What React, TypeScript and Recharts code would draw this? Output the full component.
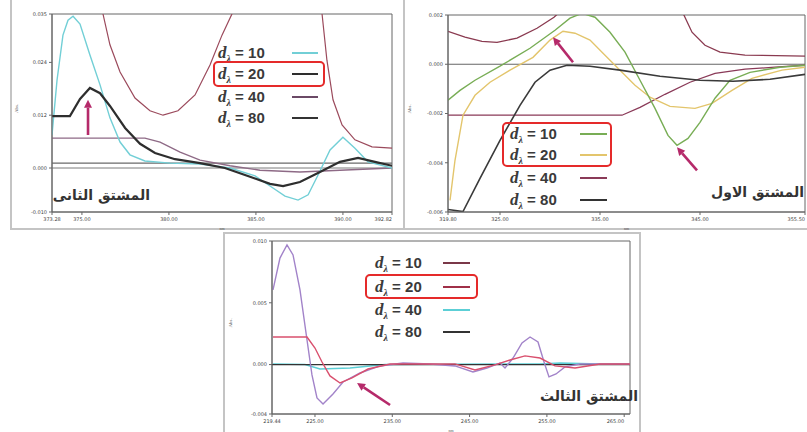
import React from 'react';
import { LineChart, Line, XAxis, YAxis, ReferenceLine, ReferenceArea } from 'recharts';

type P = { x: number; y: number | null };

// ---------------- Panel 1 : second derivative ----------------
const p1XTicks = [373.28, 375, 380, 385, 390, 392.82];
const p1YTicks = [-0.01, 0, 0.012, 0.024, 0.035];
const p1D10: P[] = [
  { x: 373.28, y: 0.0075 }, { x: 373.57, y: 0.02 }, { x: 373.91, y: 0.0302 }, { x: 374.2, y: 0.0336 },
  { x: 374.49, y: 0.0345 }, { x: 374.89, y: 0.0327 }, { x: 375.46, y: 0.0257 }, { x: 376.04, y: 0.0189 },
  { x: 376.61, y: 0.0114 }, { x: 377.19, y: 0.0059 }, { x: 377.76, y: 0.003 }, { x: 378.62, y: 0.0016 },
  { x: 380.06, y: 0.0011 }, { x: 381.79, y: 0.0009 }, { x: 383.51, y: 0 }, { x: 384.95, y: -0.0018 },
  { x: 385.81, y: -0.0041 }, { x: 386.67, y: -0.0064 }, { x: 387.42, y: -0.0073 }, { x: 388.0, y: -0.0061 },
  { x: 388.57, y: -0.0016 }, { x: 389.26, y: 0.0041 }, { x: 390.0, y: 0.007 }, { x: 390.69, y: 0.0045 },
  { x: 391.44, y: 0.0014 }, { x: 392.82, y: 0 },
];
const p1D20: P[] = [
  { x: 373.28, y: 0.0118 }, { x: 374.31, y: 0.0118 }, { x: 374.89, y: 0.0157 }, { x: 375.46, y: 0.0182 },
  { x: 376.04, y: 0.017 }, { x: 376.61, y: 0.0141 }, { x: 377.48, y: 0.0091 }, { x: 378.34, y: 0.0055 },
  { x: 379.2, y: 0.0034 }, { x: 380.35, y: 0.002 }, { x: 381.79, y: 0.0011 }, { x: 383.22, y: 0 },
  { x: 384.66, y: -0.002 }, { x: 385.81, y: -0.0036 }, { x: 386.56, y: -0.0041 }, { x: 387.53, y: -0.0032 },
  { x: 388.68, y: -0.0009 }, { x: 389.83, y: 0.0014 }, { x: 390.87, y: 0.0023 }, { x: 391.84, y: 0.0014 },
  { x: 392.82, y: 0.0005 },
];
const p1D40: P[] = [
  { x: 373.28, y: 0.0068 }, { x: 378.62, y: 0.0068 }, { x: 379.49, y: 0.0059 }, { x: 380.64, y: 0.0036 },
  { x: 381.79, y: 0.0018 }, { x: 383.51, y: 0.0005 }, { x: 385.23, y: -0.0005 }, { x: 387.53, y: -0.0009 },
  { x: 389.83, y: -0.0005 }, { x: 392.82, y: 0 },
];
const p1D80: P[] = [{ x: 373.28, y: 0.0011 }, { x: 392.82, y: 0.0011 }];
const p1Spectrum: P[] = [
  { x: 376.04, y: 0.0393 }, { x: 376.21, y: 0.035 }, { x: 376.61, y: 0.028 }, { x: 377.19, y: 0.0218 },
  { x: 378.05, y: 0.0159 }, { x: 378.91, y: 0.013 }, { x: 379.66, y: 0.012 }, { x: 380.52, y: 0.013 },
  { x: 381.5, y: 0.0166 }, { x: 382.36, y: 0.0234 }, { x: 383.05, y: 0.0302 }, { x: 383.62, y: 0.035 },
  { x: 383.8, y: 0.0393 }, { x: 386.0, y: null },
  { x: 388.62, y: 0.0393 }, { x: 388.8, y: 0.035 }, { x: 389.08, y: 0.0245 }, { x: 389.43, y: 0.0155 },
  { x: 389.95, y: 0.0098 }, { x: 390.69, y: 0.0064 }, { x: 391.67, y: 0.0048 }, { x: 392.82, y: 0.0045 },
];
const p1Arrow = [{ x: 375.35, y: 0.0075 }, { x: 375.35, y: 0.0155 }];

// ---------------- Panel 2 : first derivative ----------------
const p2XTicks = [319.8, 325, 335, 345, 355.5];
const p2YTicks = [-0.006, -0.004, -0.002, 0, 0.002];
const p2D10: P[] = [
  { x: 319.8, y: -0.00146 }, { x: 321.0, y: -0.00106 }, { x: 322.5, y: -0.00065 }, { x: 325.0, y: -0.00008 },
  { x: 328.0, y: 0.00065 }, { x: 330.5, y: 0.00138 }, { x: 332.0, y: 0.00187 }, { x: 333.2, y: 0.00207 },
  { x: 334.5, y: 0.00191 }, { x: 336.0, y: 0.0013 }, { x: 337.5, y: 0.00049 }, { x: 339.0, y: -0.00065 },
  { x: 340.5, y: -0.00179 }, { x: 341.8, y: -0.00289 }, { x: 342.7, y: -0.00329 }, { x: 343.8, y: -0.00301 },
  { x: 345.0, y: -0.00236 }, { x: 346.5, y: -0.00138 }, { x: 348.0, y: -0.00065 }, { x: 350.0, y: -0.00033 },
  { x: 353.0, y: -0.00012 }, { x: 355.5, y: -0.00004 },
];
const p2D20: P[] = [
  { x: 320.0, y: -0.00553 }, { x: 320.5, y: -0.0039 }, { x: 321.3, y: -0.00207 }, { x: 322.5, y: -0.00126 },
  { x: 324.0, y: -0.00073 }, { x: 326.0, y: -0.00024 }, { x: 328.3, y: 0.00028 }, { x: 330.0, y: 0.00098 },
  { x: 331.3, y: 0.00134 }, { x: 332.5, y: 0.00126 }, { x: 334.0, y: 0.00098 }, { x: 335.5, y: 0.00037 },
  { x: 337.0, y: -0.00024 }, { x: 338.5, y: -0.00085 }, { x: 340.0, y: -0.00134 }, { x: 342.0, y: -0.00171 },
  { x: 344.5, y: -0.00179 }, { x: 346.2, y: -0.00159 }, { x: 348.2, y: -0.00106 }, { x: 350.2, y: -0.00057 },
  { x: 353.2, y: -0.00024 }, { x: 355.5, y: -0.00012 },
];
const p2D40: P[] = [
  { x: 319.8, y: -0.00207 }, { x: 337.2, y: -0.00207 }, { x: 339.0, y: -0.00175 }, { x: 341.5, y: -0.00122 },
  { x: 344.0, y: -0.00073 }, { x: 346.5, y: -0.00037 }, { x: 349.5, y: -0.0002 }, { x: 352.5, y: -0.00012 },
  { x: 355.5, y: -0.00004 },
];
const p2D80: P[] = [
  { x: 319.8, y: -0.0059 }, { x: 321.3, y: -0.00598 }, { x: 323.0, y: -0.00463 }, { x: 325.0, y: -0.00309 },
  { x: 327.0, y: -0.00167 }, { x: 328.5, y: -0.00073 }, { x: 330.0, y: -0.00024 }, { x: 331.7, y: -0.00004 },
  { x: 334.0, y: -0.00008 }, { x: 337.0, y: -0.00024 }, { x: 341.0, y: -0.00049 }, { x: 345.0, y: -0.00065 },
  { x: 348.3, y: -0.00069 }, { x: 352.0, y: -0.00061 }, { x: 355.5, y: -0.00041 },
];
const p2Spectrum: P[] = [
  { x: 319.8, y: 0.00134 }, { x: 321.5, y: 0.0011 }, { x: 323.2, y: 0.00093 }, { x: 324.7, y: 0.00089 },
  { x: 326.7, y: 0.00106 }, { x: 328.7, y: 0.00146 }, { x: 330.4, y: 0.00191 }, { x: 331.4, y: 0.00228 },
  { x: 338.0, y: null },
  { x: 343.0, y: 0.00228 }, { x: 343.4, y: 0.00199 }, { x: 344.2, y: 0.0013 }, { x: 345.5, y: 0.00077 },
  { x: 347.0, y: 0.00049 }, { x: 349.5, y: 0.00037 }, { x: 355.5, y: 0.00033 },
];
const p2ArrowA = [{ x: 332.3, y: 0.00008 }, { x: 330.3, y: 0.0011 }];
const p2ArrowB = [{ x: 344.7, y: -0.00431 }, { x: 342.7, y: -0.00337 }];

// ---------------- Panel 3 : third derivative ----------------
const p3XTicks = [219.44, 225, 235, 245, 255, 265];
const p3YTicks = [-0.004, 0, 0.005, 0.01];
const p3D10: P[] = [
  { x: 219.57, y: 0.00604 }, { x: 220.47, y: 0.00862 }, { x: 221.38, y: 0.00968 }, { x: 222.16, y: 0.00887 },
  { x: 223.06, y: 0.00604 }, { x: 223.97, y: 0.00199 }, { x: 224.61, y: -0.00084 }, { x: 225.26, y: -0.0027 },
  { x: 226.04, y: -0.00319 }, { x: 227.33, y: -0.00238 }, { x: 228.63, y: -0.00141 }, { x: 230.82, y: -0.00068 },
  { x: 233.41, y: -0.00011 }, { x: 236.39, y: 0.00013 }, { x: 239.88, y: 0.00005 }, { x: 243.11, y: -0.00011 },
  { x: 245.44, y: -0.0006 }, { x: 247.25, y: -0.00028 }, { x: 248.94, y: 0.00013 }, { x: 249.58, y: -0.00028 },
  { x: 250.62, y: 0.00053 }, { x: 251.78, y: 0.00175 }, { x: 252.82, y: 0.00223 }, { x: 253.85, y: 0.00183 },
  { x: 254.63, y: 0.00021 }, { x: 255.27, y: -0.001 }, { x: 256.18, y: -0.00076 }, { x: 257.34, y: -0.00019 },
  { x: 259.28, y: 0.00005 }, { x: 265.75, y: 0.00005 },
];
const p3D20: P[] = [
  { x: 219.57, y: 0.00223 }, { x: 223.97, y: 0.00223 }, { x: 225.0, y: 0.00134 }, { x: 225.91, y: 0.00021 },
  { x: 226.94, y: -0.00092 }, { x: 228.24, y: -0.00149 }, { x: 229.79, y: -0.00108 }, { x: 231.86, y: -0.00036 },
  { x: 234.71, y: 0.00005 }, { x: 243.11, y: 0.00005 }, { x: 245.7, y: -0.00044 }, { x: 248.29, y: -0.00003 },
  { x: 250.23, y: 0.00037 }, { x: 252.17, y: 0.0007 }, { x: 254.11, y: 0.00053 }, { x: 256.05, y: -0.00011 },
  { x: 258.64, y: -0.00028 }, { x: 261.87, y: 0.00005 }, { x: 265.75, y: 0.00005 },
];
const p3D40: P[] = [
  { x: 219.57, y: 0.00005 }, { x: 223.71, y: 0 }, { x: 225.65, y: -0.00036 }, { x: 229.53, y: -0.00028 },
  { x: 234.06, y: 0 }, { x: 254.11, y: 0.00005 }, { x: 256.7, y: 0.00013 }, { x: 261.87, y: 0.00005 },
  { x: 265.75, y: 0.00005 },
];
const p3D80: P[] = [{ x: 219.44, y: 0 }, { x: 265.75, y: 0 }];
const p3Arrow = [{ x: 234.71, y: -0.00327 }, { x: 230.44, y: -0.00149 }];

// ---------------- legend labels ----------------
const legendValues = ['10', '20', '40', '80'];
const panelTitles = ['المشتق الثانى', 'المشتق الاول', 'المشتق الثالث'];

const ARROW = '#b52a6a';

const arrowShape = (props: any) => {
  const { x1, y1, x2, y2 } = props;
  const ang = Math.atan2(y2 - y1, x2 - x1);
  const L = 8, W = 4;
  const bx = x2 - L * Math.cos(ang), by = y2 - L * Math.sin(ang);
  const px = -Math.sin(ang) * W, py = Math.cos(ang) * W;
  return (
    <g>
      <line x1={x1} y1={y1} x2={bx} y2={by} stroke={ARROW} strokeWidth={2.6} />
      <polygon points={`${x2},${y2} ${bx + px},${by + py} ${bx - px},${by - py}`} fill={ARROW} />
    </g>
  );
};

const tickStyle = { fontSize: 5, fill: '#444', fontFamily: 'DejaVu Sans' };

// x tick that keeps the last label inside the plot frame
const makeXTick = (ticks: number[]) => (props: any) => {
  const { x, y, payload } = props;
  const last = payload.value === ticks[ticks.length - 1];
  return (
    <text x={x} y={y} dy={4} textAnchor={last ? 'end' : 'middle'} fontSize={5} fill="#444" fontFamily="DejaVu Sans">
      {Number(payload.value).toFixed(2)}
    </text>
  );
};

type LegendProps = {
  left: number; rows: number[]; lineX: number; lineW: number;
  colors: string[]; widths: number[]; box: { x: number; y: number; w: number; h: number };
};

function DLegend({ left, rows, lineX, lineW, colors, widths, box }: LegendProps) {
  return (
    <>
      {rows.map((cy, i) => (
        <React.Fragment key={i}>
          <div style={{ position: 'absolute', left, top: cy - 10, height: 20, lineHeight: '20px', whiteSpace: 'nowrap', color: '#3a3a3a', fontWeight: 'bold', fontSize: 15 }}>
            <span style={{ fontFamily: 'Liberation Serif', fontStyle: 'italic', fontSize: 17 }}>d</span>
            <span style={{ fontFamily: 'Liberation Serif', fontStyle: 'italic', fontSize: 10, position: 'relative', top: 4 }}>λ</span>
            <span style={{ fontFamily: 'Liberation Sans' }}> = {legendValues[i]}</span>
          </div>
          <div style={{ position: 'absolute', left: lineX, top: cy - widths[i] / 2, width: lineW, height: widths[i], background: colors[i] }} />
        </React.Fragment>
      ))}
      <div style={{ position: 'absolute', left: box.x, top: box.y, width: box.w, height: box.h, border: '2.5px solid #e52a2a', borderRadius: 5, boxSizing: 'border-box' }} />
    </>
  );
}

function Title({ text, left, width, cy }: { text: string; left: number; width: number; cy: number }) {
  return (
    <div style={{ position: 'absolute', left, width, top: cy - 11, height: 22, lineHeight: '22px', direction: 'rtl', textAlign: 'center', fontFamily: 'DejaVu Sans', fontWeight: 'bold', fontSize: 14, color: '#333', whiteSpace: 'nowrap' }}>
      {text}
    </div>
  );
}

export default function App() {
  return (
    <div style={{ position: 'absolute', left: 0, top: 0, width: 807, height: 432, background: '#fff', overflow: 'hidden' }}>
      {/* frames */}
      <div style={{ position: 'absolute', left: 10, top: -3, width: 395, height: 233, border: '2px solid #c4c4c4', boxSizing: 'border-box' }} />
      <div style={{ position: 'absolute', left: 403, top: -3, width: 420, height: 233, border: '2px solid #c4c4c4', boxSizing: 'border-box' }} />

      {/* Panel 1 */}
      <div style={{ position: 'absolute', left: 12, top: 0 }}>
        <LineChart width={392} height={230} margin={{ top: 14, right: 12, bottom: 0, left: 0 }}>
          <XAxis dataKey="x" type="number" domain={[373.28, 392.82]} ticks={p1XTicks} allowDataOverflow height={18}
            interval={0} tick={makeXTick(p1XTicks)} tickSize={3} stroke="#666"
            label={{ value: 'nm', position: 'insideBottom', offset: 0, fontSize: 4, fill: '#555' }} />
          <YAxis type="number" domain={[-0.01, 0.035]} ticks={p1YTicks} allowDataOverflow width={40} interval={0}
            tick={tickStyle} tickSize={3} tickFormatter={(v: number) => v.toFixed(3)} stroke="#666"
            label={{ value: 'Abs.', angle: -90, position: 'insideLeft', offset: 4, fontSize: 5, fill: '#555' }} />
          <ReferenceArea x1={373.28} x2={392.82} y1={-0.01} y2={0.035} fill="none" stroke="#666" strokeWidth={1} />
          <ReferenceLine y={0} stroke="#7a7a7a" strokeWidth={1} />
          <Line data={p1Spectrum} dataKey="y" stroke="#9b4a5c" strokeWidth={1.2} dot={false} isAnimationActive={false} connectNulls={false} />
          <Line data={p1D80} dataKey="y" stroke="#6a6a6a" strokeWidth={1.2} dot={false} isAnimationActive={false} />
          <Line data={p1D40} dataKey="y" stroke="#8e6a86" strokeWidth={1.4} dot={false} isAnimationActive={false} />
          <Line data={p1D10} dataKey="y" stroke="#72cfd6" strokeWidth={1.4} dot={false} isAnimationActive={false} />
          <Line data={p1D20} dataKey="y" stroke="#2e2e2e" strokeWidth={2.2} dot={false} isAnimationActive={false} />
          <ReferenceLine segment={p1Arrow} shape={arrowShape} />
        </LineChart>
      </div>

      {/* Panel 2 */}
      <div style={{ position: 'absolute', left: 405, top: 0 }}>
        <LineChart width={402} height={230} margin={{ top: 15, right: 2, bottom: 0, left: 0 }}>
          <XAxis dataKey="x" type="number" domain={[319.8, 355.5]} ticks={p2XTicks} allowDataOverflow height={18}
            interval={0} tick={makeXTick(p2XTicks)} tickSize={3} stroke="#666"
            label={{ value: 'nm', position: 'insideBottom', offset: 0, fontSize: 4, fill: '#555' }} />
          <YAxis type="number" domain={[-0.006, 0.002]} ticks={p2YTicks} allowDataOverflow width={43} interval={0}
            tick={tickStyle} tickSize={3} tickFormatter={(v: number) => v.toFixed(3)} stroke="#666"
            label={{ value: 'Abs.', angle: -90, position: 'insideLeft', offset: 4, fontSize: 5, fill: '#555' }} />
          <ReferenceArea x1={319.8} x2={355.5} y1={-0.006} y2={0.002} fill="none" stroke="#666" strokeWidth={1} />
          <ReferenceLine y={0} stroke="#666" strokeWidth={1.1} />
          <Line data={p2Spectrum} dataKey="y" stroke="#8a3a50" strokeWidth={1.3} dot={false} isAnimationActive={false} connectNulls={false} />
          <Line data={p2D40} dataKey="y" stroke="#8a3a58" strokeWidth={1.3} dot={false} isAnimationActive={false} />
          <Line data={p2D20} dataKey="y" stroke="#e3c56c" strokeWidth={1.4} dot={false} isAnimationActive={false} />
          <Line data={p2D10} dataKey="y" stroke="#78ad55" strokeWidth={1.4} dot={false} isAnimationActive={false} />
          <Line data={p2D80} dataKey="y" stroke="#3a3a3a" strokeWidth={1.6} dot={false} isAnimationActive={false} />
          <ReferenceLine segment={p2ArrowA} shape={arrowShape} />
          <ReferenceLine segment={p2ArrowB} shape={arrowShape} />
        </LineChart>
      </div>

      {/* Panel 3 frame */}
      <div style={{ position: 'absolute', left: 223, top: 232, width: 418, height: 210, border: '2px solid #c4c4c4', boxSizing: 'border-box', background: '#fff' }} />
      <div style={{ position: 'absolute', left: 226, top: 236 }}>
        <LineChart width={410} height={196} margin={{ top: 5, right: 6, bottom: 0, left: 0 }}>
          <XAxis dataKey="x" type="number" domain={[219.44, 265.75]} ticks={p3XTicks} allowDataOverflow height={18}
            interval={0} tick={makeXTick(p3XTicks)} tickSize={3} stroke="#666"
            label={{ value: 'nm', position: 'insideBottom', offset: 0, fontSize: 4, fill: '#555' }} />
          <YAxis type="number" domain={[-0.004, 0.01]} ticks={p3YTicks} allowDataOverflow width={46} interval={0}
            tick={tickStyle} tickSize={3} tickFormatter={(v: number) => v.toFixed(3)} stroke="#666"
            label={{ value: 'Abs.', angle: -90, position: 'insideLeft', offset: 4, fontSize: 5, fill: '#555' }} />
          <ReferenceArea x1={219.44} x2={265.75} y1={-0.004} y2={0.01} fill="none" stroke="#666" strokeWidth={1} />
          <Line data={p3D40} dataKey="y" stroke="#5ccfd6" strokeWidth={1.5} dot={false} isAnimationActive={false} />
          <Line data={p3D80} dataKey="y" stroke="#333" strokeWidth={1.2} dot={false} isAnimationActive={false} />
          <Line data={p3D10} dataKey="y" stroke="#a283c9" strokeWidth={1.4} dot={false} isAnimationActive={false} />
          <Line data={p3D20} dataKey="y" stroke="#d9506e" strokeWidth={1.4} dot={false} isAnimationActive={false} />
          <ReferenceLine segment={p3Arrow} shape={arrowShape} />
        </LineChart>
      </div>

      {/* legends */}
      <DLegend left={218} rows={[53, 74, 97, 118]} lineX={292} lineW={26}
        colors={['#72cfd6', '#2e2e2e', '#6b4a66', '#333']} widths={[1.5, 2.5, 2, 2.5]}
        box={{ x: 213, y: 61, w: 112, h: 26 }} />
      <DLegend left={510} rows={[134, 155, 178, 200]} lineX={580} lineW={27}
        colors={['#78ad55', '#e3c56c', '#8a3a58', '#333']} widths={[2, 2, 2, 2]}
        box={{ x: 502, y: 122, w: 110, h: 45 }} />
      <DLegend left={375} rows={[263, 287, 310, 332]} lineX={443} lineW={27}
        colors={['#7a3848', '#a03048', '#5ccfd6', '#333']} widths={[1.6, 1.6, 2, 2]}
        box={{ x: 365, y: 274, w: 113, h: 25 }} />

      <Title text={panelTitles[0]} left={55} width={95} cy={195} />
      <Title text={panelTitles[1]} left={712} width={92} cy={192} />
      <Title text={panelTitles[2]} left={543} width={95} cy={396} />
    </div>
  );
}
